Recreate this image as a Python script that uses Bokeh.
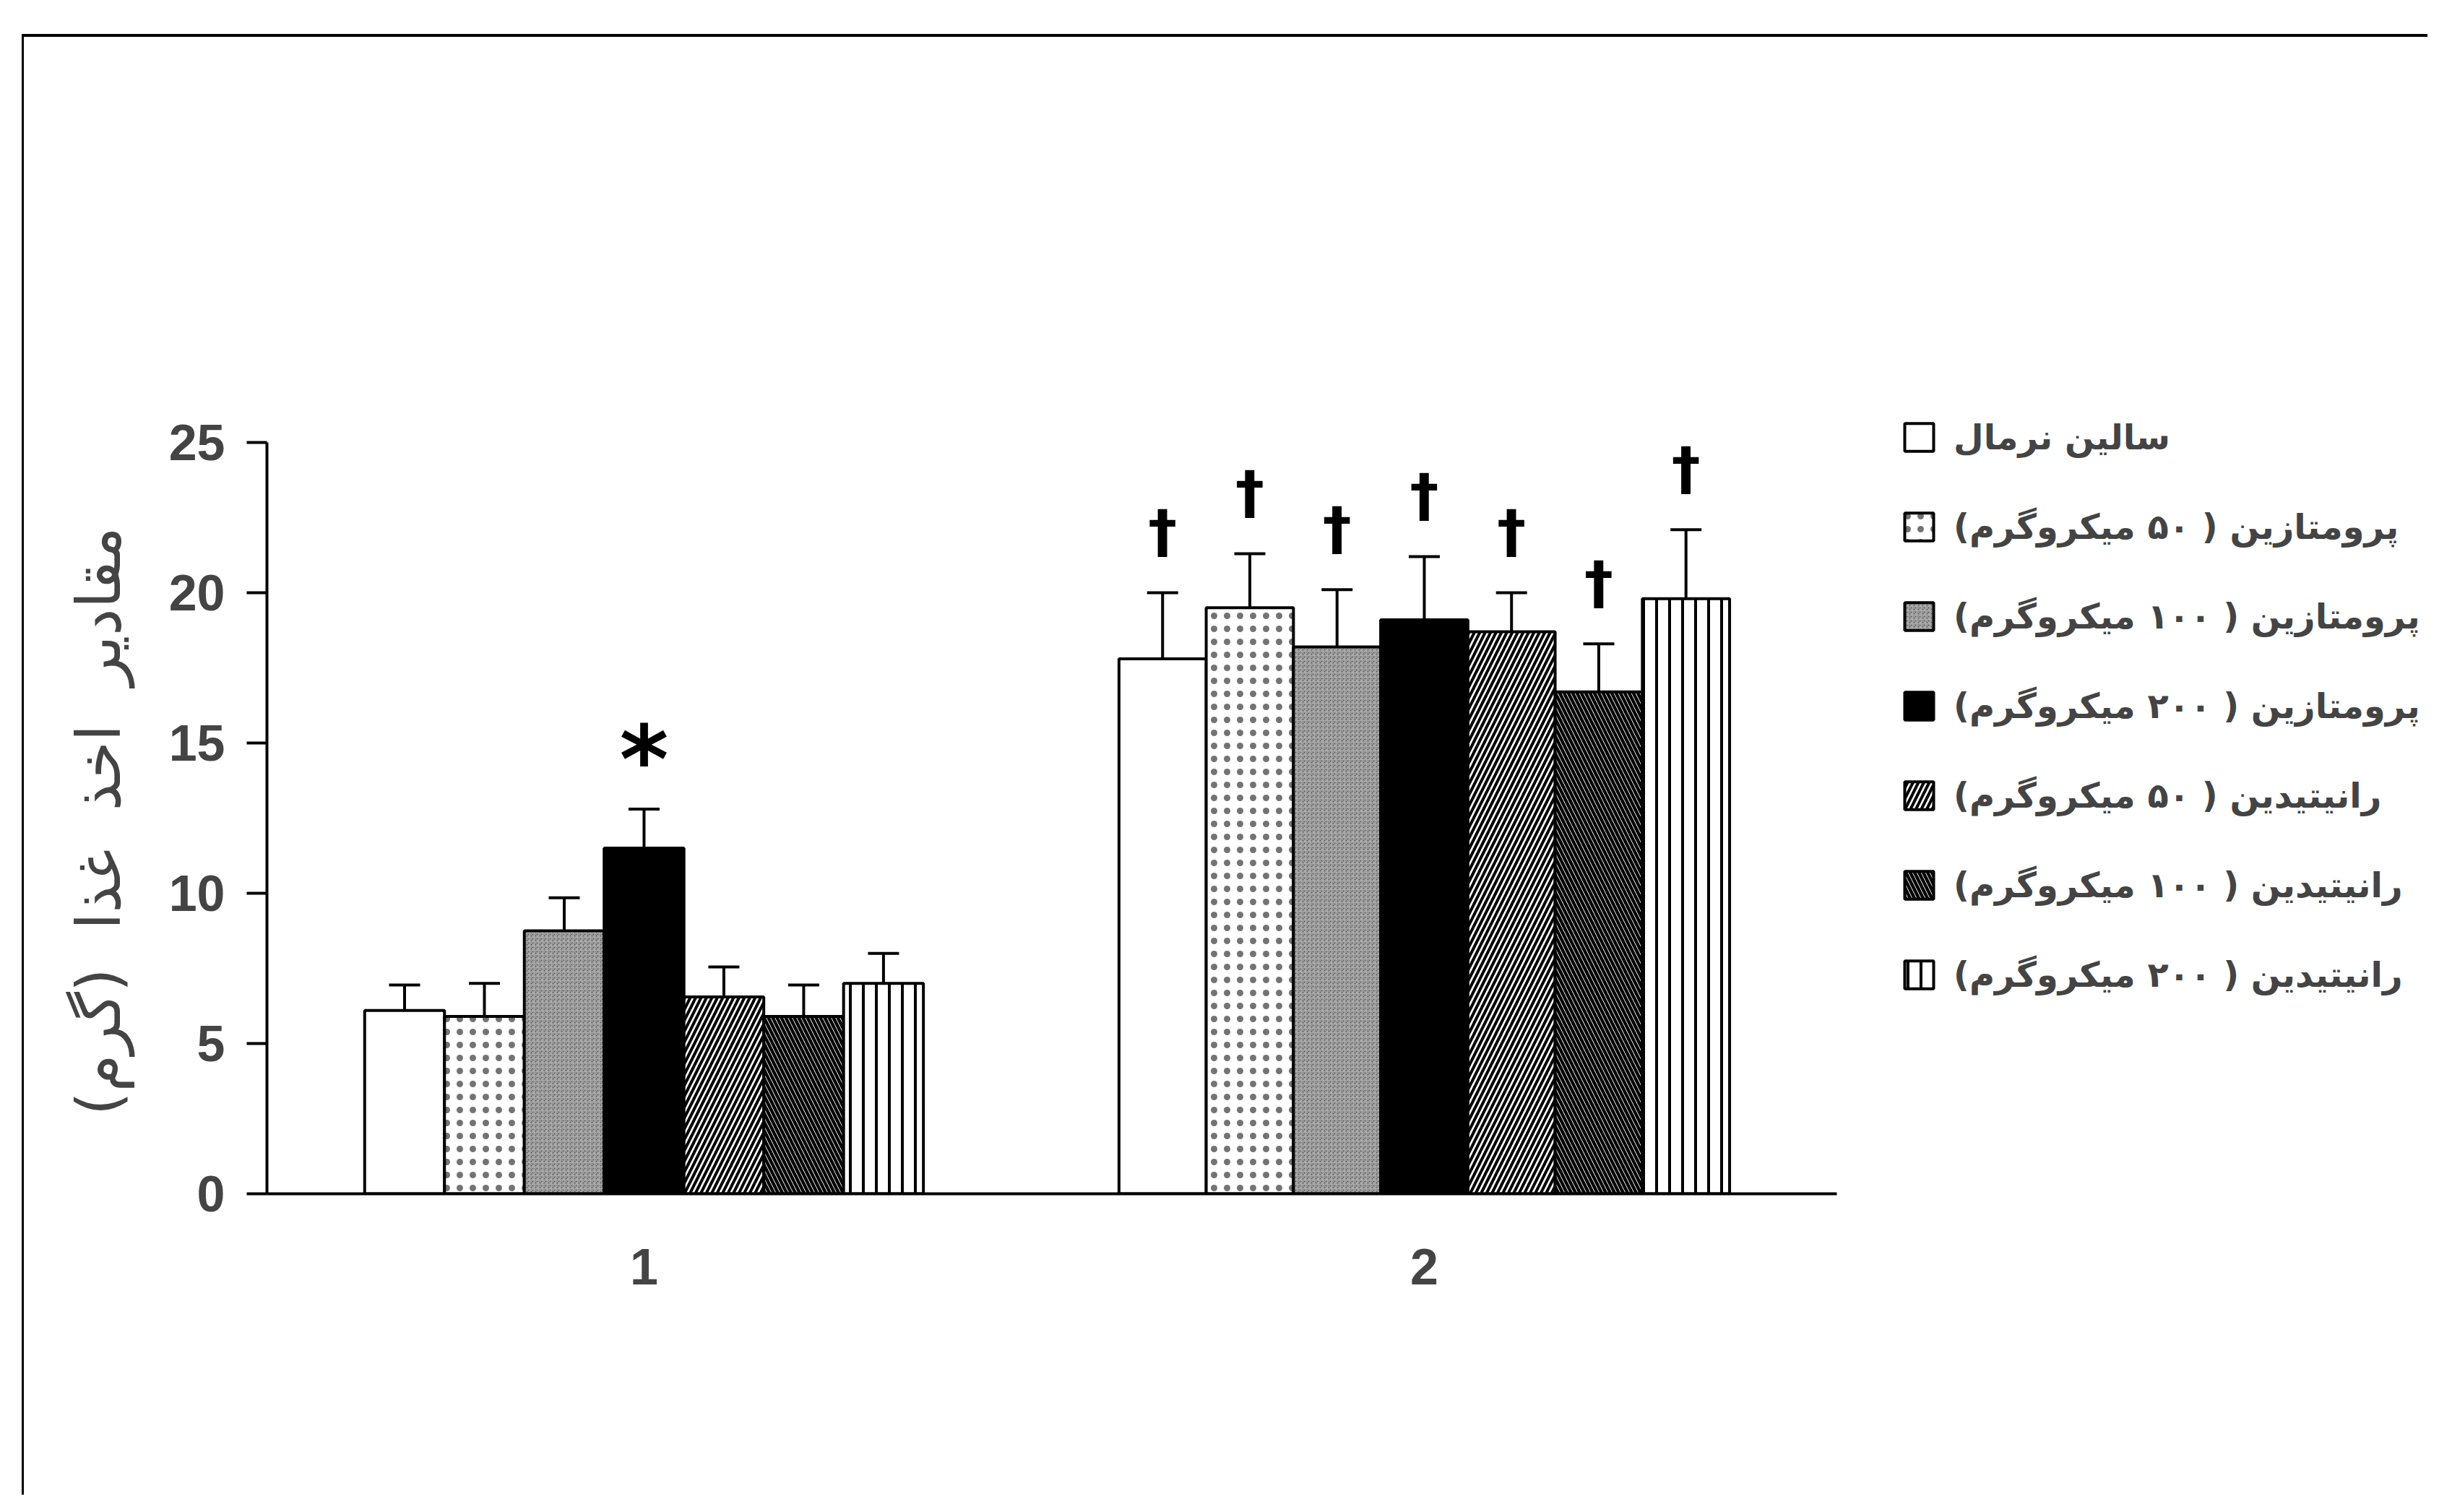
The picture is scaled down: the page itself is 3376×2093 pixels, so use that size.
from bokeh.plotting import figure
from bokeh.models import (ColumnDataSource, Range1d, FixedTicker, Legend, LegendItem,
                          Whisker, TeeHead)
from bokeh.core.properties import value
from bokeh.embed import file_html
from bokeh.resources import INLINE

# ---------------- data ----------------
GROUPS = [1, 2]
GROUP_LABELS = {1: "1", 2: "2"}
RLM = "\u200f"
SERIES = [
    "سالین نرمال",
    "پرومتازین ( ۵۰ میکروگرم)",
    "پرومتازین ( ۱۰۰ میکروگرم)",
    "پرومتازین ( ۲۰۰ میکروگرم)",
    "رانیتیدین ( ۵۰ میکروگرم)",
    "رانیتیدین ( ۱۰۰ میکروگرم)",
    "رانیتیدین ( ۲۰۰ میکروگرم)",
]
MEAN_G1 = [6.1, 5.9, 8.75, 11.5, 6.55, 5.9, 7.0]
SEM_G1 = [0.85, 1.1, 1.1, 1.3, 1.0, 1.05, 1.0]
MEAN_G2 = [17.8, 19.5, 18.2, 19.1, 18.7, 16.7, 19.8]
SEM_G2 = [2.2, 1.8, 1.9, 2.1, 1.3, 1.6, 2.3]
MARK_G1 = ["", "", "", "*", "", "", ""]
MARK_G2 = ["†", "†", "†", "†", "†", "†", "†"]
Y_TICKS = [0, 5, 10, 15, 20, 25]
Y_BOUNDS = (0, 25)
X_BOUNDS = (0.5167, 2.5287)
GAP = " \u00a0"
Y_LABEL = GAP.join(["مقادیر", "اخذ", "غذا", "(گرم)"])

# ---------------- styles ----------------
GROUP_BAR_W = {1: 0.1023, 2: 0.1118}
STYLES = [
    dict(fill_color="white", hatch_pattern=None),
    dict(fill_color="white", hatch_pattern="dot", hatch_scale=18, hatch_weight=1.0, hatch_color="black", hatch_alpha=0.55),
    dict(fill_color="#555555", hatch_pattern="criss_cross", hatch_scale=6, hatch_weight=1.5, hatch_color="white", hatch_alpha=0.5),
    dict(fill_color="black", hatch_pattern=None),
    dict(fill_color="white", hatch_pattern="right_diagonal_line", hatch_scale=15, hatch_weight=4, hatch_color="black"),
    dict(fill_color="white", hatch_pattern="left_diagonal_line", hatch_scale=12, hatch_weight=4.5, hatch_color="black"),
    dict(fill_color="white", hatch_pattern="vertical_line", hatch_scale=18, hatch_weight=4, hatch_color="black"),
]

FONT_FA = "DejaVu Sans"

W, H = 3330, 2022
PX_PER_X = 1080.0
PX_PER_Y = 41.6
FRAME_LEFT, FRAME_TOP = 336, 516
FRAME_W = W - FRAME_LEFT
FRAME_H = 1085
x_end = X_BOUNDS[0] + FRAME_W / PX_PER_X
y_end = FRAME_H / PX_PER_Y

p = figure(width=W, height=H, output_backend="svg", toolbar_location=None,
           x_range=Range1d(X_BOUNDS[0], x_end), y_range=Range1d(0, y_end),
           min_border_left=FRAME_LEFT, min_border_top=FRAME_TOP,
           min_border_bottom=H - FRAME_TOP - FRAME_H,
           min_border_right=0)
p.margin = (47, 0, 0, 30)
p.styles = {"border-top": "4px solid black", "border-left": "3px solid black"}
p.outline_line_color = None
p.xgrid.grid_line_color = None
p.ygrid.grid_line_color = None
p.background_fill_color = "white"
p.border_fill_color = "white"

means = [MEAN_G1, MEAN_G2]
sems = [SEM_G1, SEM_G2]
marks = [MARK_G1, MARK_G2]

renderers = []
err_x, err_top, err_up = [], [], []
star_x, star_y, dag_x, dag_y, star_t, dag_t = [], [], [], [], [], []
n = len(SERIES)
for i in range(n):
    xs, tops, ws = [], [], []
    for gi, g in enumerate(GROUPS):
        w = GROUP_BAR_W[g]
        x = g + (i - (n - 1) / 2) * w
        xs.append(x)
        tops.append(means[gi][i])
        ws.append(w)
        err_x.append(x)
        err_top.append(means[gi][i])
        err_up.append(means[gi][i] + sems[gi][i])
        m = marks[gi][i]
        if m == "*":
            star_x.append(x); star_y.append(means[gi][i] + sems[gi][i]); star_t.append(m)
        elif m:
            dag_x.append(x); dag_y.append(means[gi][i] + sems[gi][i]); dag_t.append(m)
    src = ColumnDataSource(dict(x=xs, top=tops, w=ws))
    st = dict(STYLES[i])
    hp = st.pop("hatch_pattern")
    kw = dict(x="x", top="top", bottom=0, width="w", source=src,
              line_color="black", line_width=4, **st)
    if hp:
        kw["hatch_pattern"] = hp
    r = p.vbar(**kw)
    renderers.append(r)

esrc = ColumnDataSource(dict(x=err_x, lower=err_top, upper=err_up))
wh = Whisker(source=esrc, base="x", lower="lower", upper="upper", dimension="height",
             line_width=4, line_color="black",
             upper_head=TeeHead(size=43, line_width=4, line_color="black"),
             lower_head=None)
p.add_layout(wh)

p.text(x=star_x, y=star_y, text=star_t, text_font=value("DejaVu Sans"),
       text_font_style="bold", text_font_size="130px", text_align="center",
       text_baseline="middle", y_offset=-68, text_color="black")
p.text(x=dag_x, y=dag_y, text=dag_t, text_font=value("DejaVu Sans"),
       text_font_style="bold", text_font_size="80px", text_align="center",
       text_baseline="middle", y_offset=-85, text_color="black")

# axes
yax = p.yaxis[0]
yax.ticker = FixedTicker(ticks=Y_TICKS)
yax.bounds = Y_BOUNDS
yax.axis_line_width = 4
yax.major_tick_line_width = 4
yax.major_tick_out = 28
yax.major_tick_in = 0
yax.minor_tick_line_color = None
yax.major_label_text_font = "Liberation Sans"
yax.major_label_text_font_style = "bold"
yax.major_label_text_font_size = "70px"
yax.major_label_standoff = 30
yax.axis_label = Y_LABEL + RLM + "\u00a0\u00a0"
yax.axis_label_text_font = FONT_FA
yax.axis_label_text_font_style = "normal"
yax.axis_label_text_font_size = "84px"
yax.axis_label_standoff = 45

xax = p.xaxis[0]
xax.ticker = FixedTicker(ticks=GROUPS)
xax.bounds = X_BOUNDS
xax.major_label_overrides = GROUP_LABELS
xax.axis_line_width = 4
xax.major_tick_line_color = None
xax.major_tick_out = 0
xax.major_tick_in = 0
xax.minor_tick_line_color = None
xax.major_label_text_font = "Liberation Sans"
xax.major_label_text_font_style = "bold"
xax.major_label_text_font_size = "70px"
xax.major_label_standoff = 76

# legend inside the (widened) frame, positioned in screen units from its bottom-left
legend = Legend(items=[LegendItem(label=SERIES[i] + RLM, renderers=[renderers[i]]) for i in range(n)],
                location=(2262, 275), margin=0, padding=0, spacing=68,
                glyph_width=50, glyph_height=48, label_standoff=23,
                label_height=56,
                label_text_font=FONT_FA, label_text_font_style="bold",
                label_text_font_size="48px",
                border_line_color=None, background_fill_alpha=0)
p.add_layout(legend)

open("out.html", "w").write(file_html(p, INLINE))
